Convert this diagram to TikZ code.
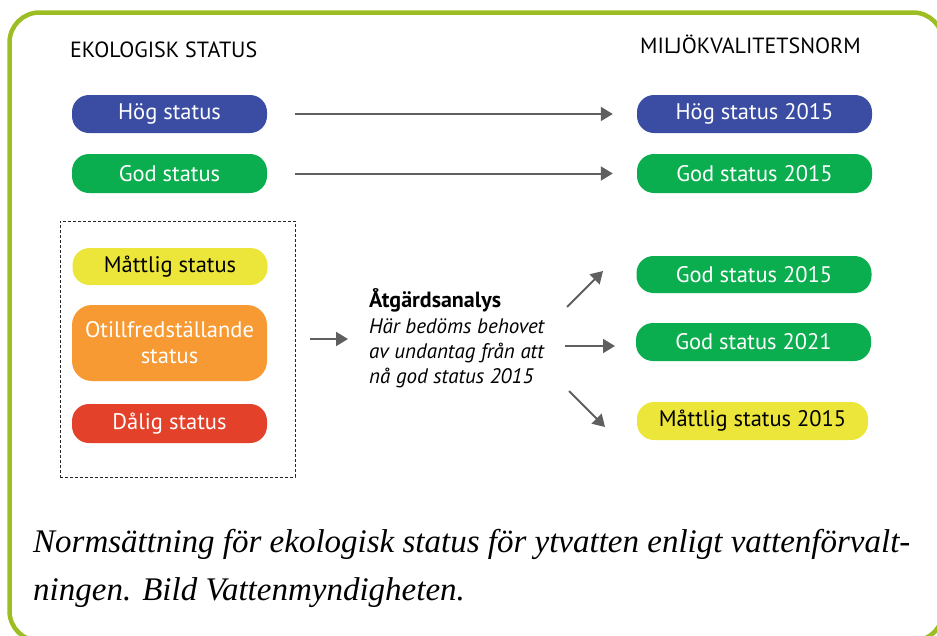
\documentclass[tikz,border=0pt]{standalone}
\usepackage{fontspec}
\setmainfont{Liberation Serif}
\setsansfont{PT Sans}
\usetikzlibrary{arrows.meta}
\definecolor{frameg}{RGB}{157,190,34}
\definecolor{sblue}{RGB}{58,77,163}
\definecolor{sgreen}{RGB}{11,174,78}
\definecolor{syellow}{RGB}{237,230,58}
\definecolor{sorange}{RGB}{247,154,51}
\definecolor{sred}{RGB}{228,65,42}
\definecolor{arrgray}{RGB}{95,95,95}
\tikzset{
  pill/.style={rounded corners=17pt, inner sep=0pt, align=center,
    font=\sffamily\fontsize{22.5}{26}\selectfont, text=white},
  lpill/.style={pill, minimum width=195pt, minimum height=38pt},
  rpill/.style={pill, minimum width=235pt, minimum height=38pt},
  arr/.style={draw=arrgray, line width=2pt, -{Triangle[length=12pt,width=14pt]}},
  head/.style={anchor=base west, inner sep=0pt, font=\sffamily\fontsize{22}{26}\selectfont},
  ana/.style={anchor=base west, inner sep=0pt, font=\sffamily\itshape\fontsize{21}{24}\selectfont},
  captext/.style={anchor=base west, inner sep=0pt, font=\itshape\fontsize{33}{38}\selectfont},
  grpbox/.style={draw=black!85, densely dashed, line width=0.8pt, inner sep=0pt}
}
\begin{document}
\begin{tikzpicture}[x=1pt,y=-1pt]
\useasboundingbox (0,0) rectangle (937,635);
\begin{scope}
\clip (0,0) rectangle (937,635);
\draw[frameg, line width=4.5pt, rounded corners=30pt] (9.5,12.5) rectangle (943,641);
\end{scope}

\node[head] (h1) at (70,57) {EKOLOGISK STATUS};
\node[head] (h2) at (640,53) {MILJÖKVALITETSNORM};

\node[lpill, fill=sblue] (hog) at (169.5,114) {Hög status};
\node[lpill, fill=sgreen, minimum height=39pt] (god) at (169.5,173.5) {God status};
\node[rpill, fill=sblue] (hog15) at (754.5,114) {Hög status 2015};
\node[rpill, fill=sgreen, minimum height=39pt] (god15a) at (754.5,173.5) {God status 2015};

\node[grpbox, minimum width=235pt, minimum height=256pt] (grp) at (177.5,349) {};
\node[lpill, fill=syellow, text=black, minimum height=37pt] (matt) at (170,266.5) {Måttlig status};
\node[lpill, fill=sorange, minimum height=76pt, rounded corners=20pt] (otill) at (169.5,343) {Otillfredställande\\status};
\node[lpill, fill=sred, minimum height=39pt] (dalig) at (169.5,423.5) {Dålig status};

\node[ana, font=\sffamily\bfseries\fontsize{22}{24}\selectfont] (an0) at (369,307) {Åtgärdsanalys};
\node[ana] (an1) at (369,333) {Här bedöms behovet};
\node[ana] (an2) at (369,358) {av undantag från att};
\node[ana] (an3) at (369,383) {nå god status 2015};

\node[rpill, fill=sgreen, minimum height=37pt] (god15b) at (754,274.5) {God status 2015};
\node[rpill, fill=sgreen] (god21) at (753.5,342) {God status 2021};
\node[rpill, fill=syellow, text=black, minimum width=231pt] (matt15) at (752.5,421) {Måttlig status 2015};

\draw[arr, shorten <=28pt, shorten >=24pt] (hog) -- (hog15);
\draw[arr, shorten <=28pt, shorten >=24pt] (god) -- (god15a);

\coordinate (m1) at (310,339);
\coordinate (m2) at (348,339);
\draw[arr] (m1) -- (m2);

\coordinate (u1) at (567,307);
\coordinate (u2) at (603,271);
\draw[arr] (u1) -- (u2);
\coordinate (c1) at (565,346);
\coordinate (c2) at (615,346);
\draw[arr] (c1) -- (c2);
\coordinate (d1) at (569,391);
\coordinate (d2) at (605,427);
\draw[arr] (d1) -- (d2);

\node[captext] (cap1) at (33,552) {Normsättning för ekologisk status för ytvatten enligt vattenförvalt-};
\node[captext] (cap2) at (33,600) {ningen. Bild Vattenmyndigheten.};
\end{tikzpicture}
\end{document}
